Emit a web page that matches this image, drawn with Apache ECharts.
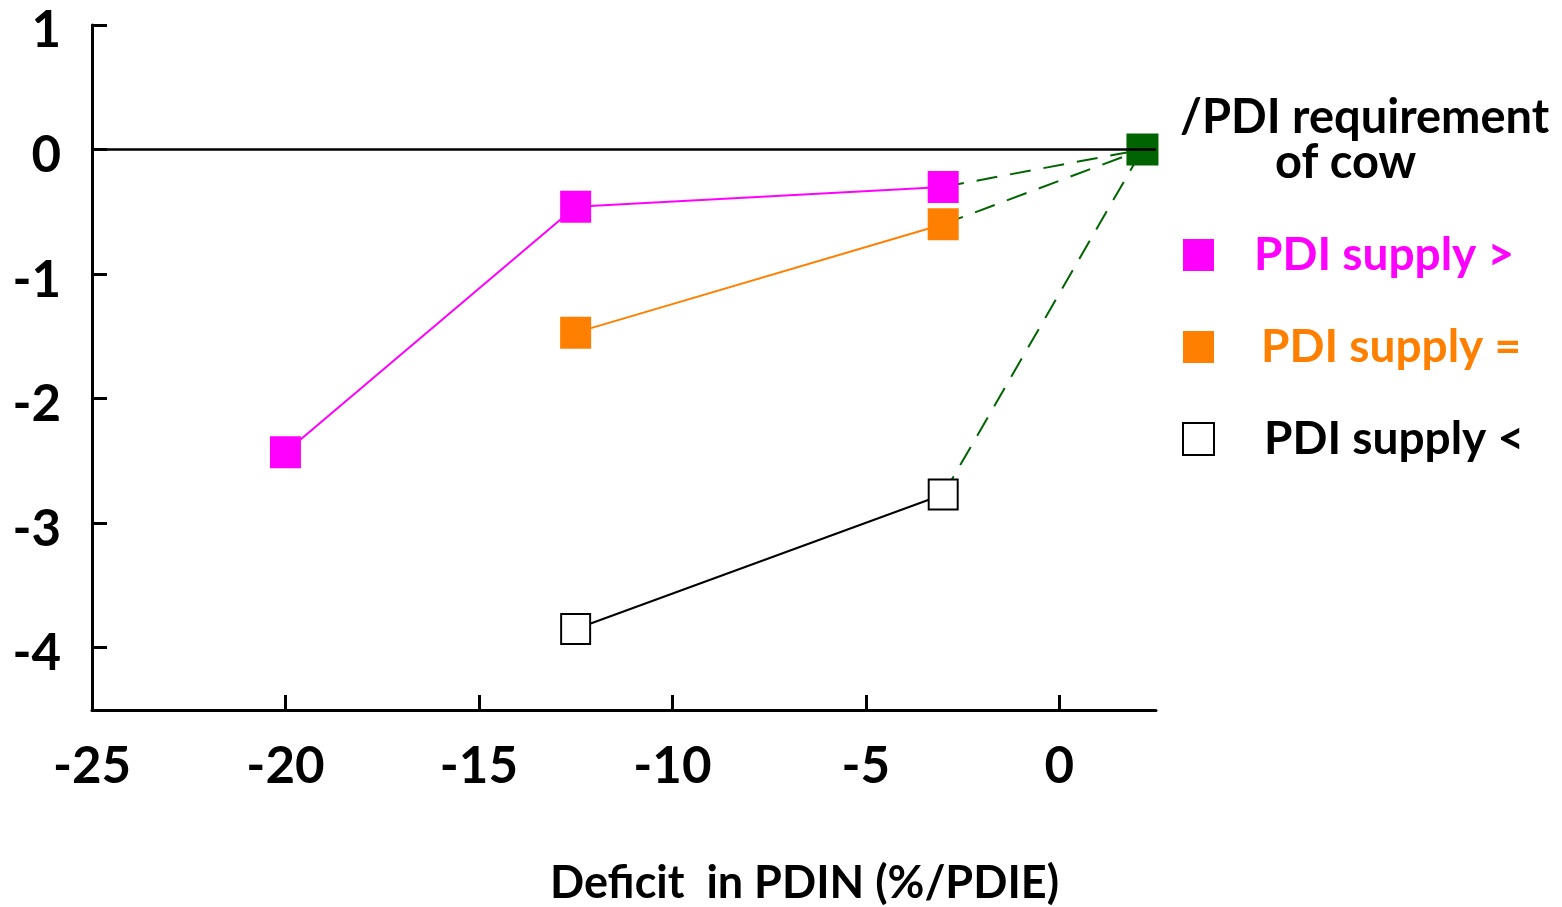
<!DOCTYPE html>
<html>
<head>
<meta charset="utf-8">
<script src="https://cdn.jsdelivr.net/npm/echarts@6/dist/echarts.min.js"></script>
<style>
html,body{margin:0;padding:0;background:#fff;}
#chart{width:1562px;height:907px;}
</style>
</head>
<body>
<div id="chart"></div>
<script>
// Data
const xTicks = [-25, -20, -15, -10, -5, 0];
const yTicks = [1, 0, -1, -2, -3, -4];

const supplyGreaterX = [-20, -12.5, -3];
const supplyGreaterY = [-2.43, -0.46, -0.3];

const supplyEqualX = [-12.5, -3];
const supplyEqualY = [-1.47, -0.6];

const supplyLessX = [-12.5, -3];
const supplyLessY = [-3.85, -2.77];

const requirementX = [2.15];
const requirementY = [0];

const seriesNames = ['PDI supply >', 'PDI supply =', 'PDI supply <'];
const titleLines = ['/PDI requirement', 'of cow'];
const xAxisTitle = 'Deficit  in PDIN (%/PDIE)';

const FONT = 'Lato';
const pair = (xs, ys) => xs.map((x, i) => [x, ys[i]]);
const reqPoint = pair(requirementX, requirementY)[0];
const lastOf = (xs, ys) => [xs[xs.length - 1], ys[ys.length - 1]];

const chart = echarts.init(document.getElementById('chart'), null, {renderer: 'canvas'});

const dashStyle = {color: '#006400', width: 2, type: [21, 13]};

chart.setOption({
  animation: false,
  backgroundColor: '#fff',
  grid: {left: 92, right: 406, top: 25, bottom: 197, containLabel: false},
  xAxis: {
    type: 'value', min: -25, max: 2.5, interval: 2.5,
    axisLine: {onZero: false, lineStyle: {color: '#000', width: 3}},
    axisTick: {inside: true, length: 15, customValues: xTicks, lineStyle: {color: '#000', width: 3}},
    axisLabel: {
      margin: 31, fontFamily: FONT, fontWeight: 'bold', fontSize: 51, color: '#000',
      customValues: xTicks
    },
    splitLine: {show: false}
  },
  yAxis: {
    type: 'value', min: -4.5, max: 1, interval: 0.5,
    axisLine: {onZero: false, lineStyle: {color: '#000', width: 3}},
    axisTick: {inside: true, length: 15, customValues: yTicks, lineStyle: {color: '#000', width: 3}},
    axisLabel: {
      margin: 31, color: '#000',
      customValues: yTicks,
      formatter: v => '{t|' + v + '}',
      rich: {t: {fontFamily: FONT, fontWeight: 'bold', fontSize: 51, color: '#000', padding: [12, 0, 0, 0]}}
    },
    splitLine: {show: false}
  },
  legend: {
    orient: 'vertical', left: 1177, top: 226,
    icon: 'rect', itemWidth: 31, itemHeight: 32, itemGap: 44,
    selectedMode: false,
    textStyle: {fontFamily: FONT, fontWeight: 'bold', fontSize: 46, lineHeight: 48, padding: [0, 0, 0, 35]},
    data: [
      {name: seriesNames[0], textStyle: {color: '#ff00ff'}},
      {name: seriesNames[1], textStyle: {color: '#ff8000', padding: [0, 0, 0, 42]}},
      {name: seriesNames[2], itemStyle: {color: '#fff', borderColor: '#000', borderWidth: 2}, textStyle: {color: '#000', padding: [0, 0, 0, 45]}}
    ]
  },
  graphic: [
    {type: 'text', left: 1180, top: 94, style: {text: titleLines[0], fontFamily: FONT, fontWeight: 'bold', fontSize: 47, fill: '#000'}},
    {type: 'text', left: 1275, top: 139, style: {text: titleLines[1], fontFamily: FONT, fontWeight: 'bold', fontSize: 47, fill: '#000'}},
    {type: 'text', left: 550, top: 861, style: {text: xAxisTitle, fontFamily: FONT, fontWeight: 'bold', fontSize: 45, fill: '#000'}}
  ],
  series: [
    {
      name: 'zero', type: 'line', data: [], silent: true,
      markLine: {
        silent: true, symbol: 'none', label: {show: false},
        lineStyle: {color: '#000', width: 2.5, type: 'solid'},
        data: [{yAxis: 0}]
      }
    },
    {type: 'line', data: [lastOf(supplyGreaterX, supplyGreaterY), reqPoint], showSymbol: false, symbol: 'none', lineStyle: dashStyle, z: 1, silent: true},
    {type: 'line', data: [lastOf(supplyEqualX, supplyEqualY), reqPoint], showSymbol: false, symbol: 'none', lineStyle: dashStyle, z: 1, silent: true},
    {type: 'line', data: [lastOf(supplyLessX, supplyLessY), reqPoint], showSymbol: false, symbol: 'none', lineStyle: dashStyle, z: 1, silent: true},
    {
      name: seriesNames[0], type: 'line', data: pair(supplyGreaterX, supplyGreaterY),
      symbol: 'rect', symbolSize: [31, 32],
      lineStyle: {color: '#ff00ff', width: 2},
      itemStyle: {color: '#ff00ff'}, z: 3
    },
    {
      name: seriesNames[1], type: 'line', data: pair(supplyEqualX, supplyEqualY),
      symbol: 'rect', symbolSize: [31, 32],
      lineStyle: {color: '#ff8000', width: 2},
      itemStyle: {color: '#ff8000'}, z: 3
    },
    {
      name: seriesNames[2], type: 'line', data: pair(supplyLessX, supplyLessY),
      symbol: 'rect', symbolSize: [29, 30],
      lineStyle: {color: '#000', width: 2},
      itemStyle: {color: '#fff', borderColor: '#000', borderWidth: 2}, z: 3
    },
    {
      name: 'requirement', type: 'scatter', data: pair(requirementX, requirementY),
      symbol: 'rect', symbolSize: [32, 32],
      itemStyle: {color: '#006400', opacity: 1}, z: 4
    }
  ]
});
</script>
</body>
</html>
